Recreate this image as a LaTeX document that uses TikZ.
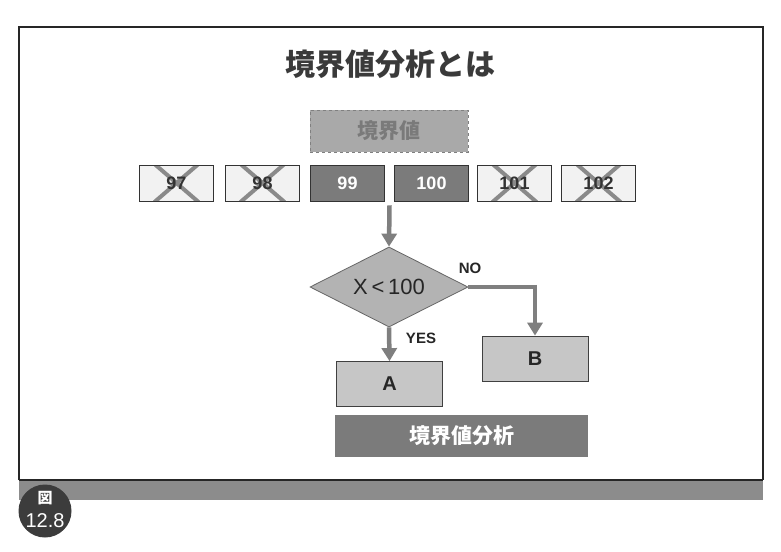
\documentclass[tikz,border=0pt]{standalone}
\usepackage{fontspec}
\setmainfont{Liberation Sans}
\newfontfamily\jp{Noto Sans CJK JP}
\usetikzlibrary{shapes.geometric,arrows.meta,calc}
\definecolor{lightfill}{HTML}{F2F2F2}
\definecolor{darkfill}{HTML}{7B7B7B}
\definecolor{crossc}{HTML}{8A8A8A}
\definecolor{arrowc}{HTML}{7F7F7F}
\definecolor{diafill}{HTML}{B3B3B3}
\definecolor{boxfill}{HTML}{C6C6C6}
\definecolor{bandc}{HTML}{8C8C8C}
\definecolor{titlec}{HTML}{3A3A3A}
\definecolor{badgec}{HTML}{3C3C3C}
\definecolor{headfill}{HTML}{A9A9A9}
\definecolor{headtext}{HTML}{7A7A7A}
\tikzset{
  valbox/.style={draw=black!80, line width=0.8pt, minimum width=74pt, minimum height=36pt, inner sep=0pt, font=\fontsize{18}{18}\selectfont\bfseries},
  offbox/.style={valbox, fill=lightfill, text=black!80,
    path picture={
      \draw[crossline] ($(path picture bounding box.center)+(-22,-19)$) -- ($(path picture bounding box.center)+(22,19)$);
      \draw[crossline] ($(path picture bounding box.center)+(22,-19)$) -- ($(path picture bounding box.center)+(-22,19)$);
    }},
  onbox/.style={valbox, fill=darkfill, text=white},
  crossline/.style={crossc, line width=4pt},
  flow/.style={arrowc, line width=4.5pt, -{Triangle[width=15pt,length=13pt]}},
  flowline/.style={arrowc, line width=4.5pt},
  resbox/.style={draw=black!75, line width=0.8pt, fill=boxfill, minimum width=106pt, minimum height=45pt, inner sep=0pt, font=\fontsize{20}{20}\selectfont\bfseries, text=black!85},
  lbl/.style={font=\fontsize{15}{15}\selectfont\bfseries, text=black!85, inner sep=0pt},
  badgetext/.style={text=white, inner sep=0pt}
}
\begin{document}
\begin{tikzpicture}[x=1pt,y=-1pt]
\useasboundingbox (0,0) rectangle (781,551);
\fill[white] (0,0) rectangle (781,551);
% frame
\draw[black!85, line width=1.2pt] (19,480) -- (19,27) -- (763,27) -- (763,480);
\fill[bandc] (19,480) rectangle (763,500);
\draw[black!85, line width=1.2pt] (19,480) -- (763,480);
% badge
\node[circle, fill=badgec, minimum size=53pt, inner sep=0pt] (badge) at (45,511) {};
\node[badgetext, font=\jp\bfseries\fontsize{15}{15}\selectfont] (badgefig) at (45,498.5) {図};
\node[badgetext, font=\fontsize{20}{20}\selectfont] (badgenum) at (45,520.5) {12.8};
% title
\node[text=titlec, font=\jp\bfseries\fontsize{30}{30}\selectfont] (title) at (390,64) {境界値分析とは};
% header
\node[draw=black!50, dashed, line width=0.6pt, fill=headfill, minimum width=158pt, minimum height=42pt, inner sep=0pt,
      text=headtext, font=\jp\bfseries\fontsize{21}{21}\selectfont] (head) at (389,131) {境界値};
% values
\node[offbox] (b97) at (176.5,183) {97};
\node[offbox] (b98) at (262.5,183) {98};
\node[onbox] (b99) at (347.5,183) {99};
\node[onbox] (b100) at (431.5,183) {100};
\node[offbox] (b101) at (514.5,183) {101};
\node[offbox] (b102) at (598.5,183) {102};
% decision
\node[diamond, draw=black!60, line width=0.8pt, fill=diafill, minimum width=158pt, minimum height=80pt, aspect=2, inner sep=0pt,
      font=\fontsize{22}{22}\selectfont, text=black!85] (dec) at (389,287) {X\,<\,100};
\coordinate (start) at ($(b99.south east)!0.5!(b100.south west)+(0,4)$);
\draw[flow] (start) -- (dec.north);
% results
\node[resbox] (A) at (389.5,384) {A};
\node[resbox] (B) at (535,358.5) {B};
\coordinate (turn) at (dec.east -| B.north);
\draw[flowline] (dec.east) -- (turn);
\draw[flow] ($(turn)+(0,-2.25)$) -- (B.north);
\draw[flow] (dec.south) -- (A.north);
\node[lbl] (no) at (470,268) {NO};
\node[lbl] (yes) at (421,338) {YES};
% bottom
\node[fill=darkfill, minimum width=253pt, minimum height=42pt, inner sep=0pt, text=white,
      font=\jp\bfseries\fontsize{21}{21}\selectfont] (ana) at (461.5,436) {境界値分析};
\end{tikzpicture}
\end{document}
